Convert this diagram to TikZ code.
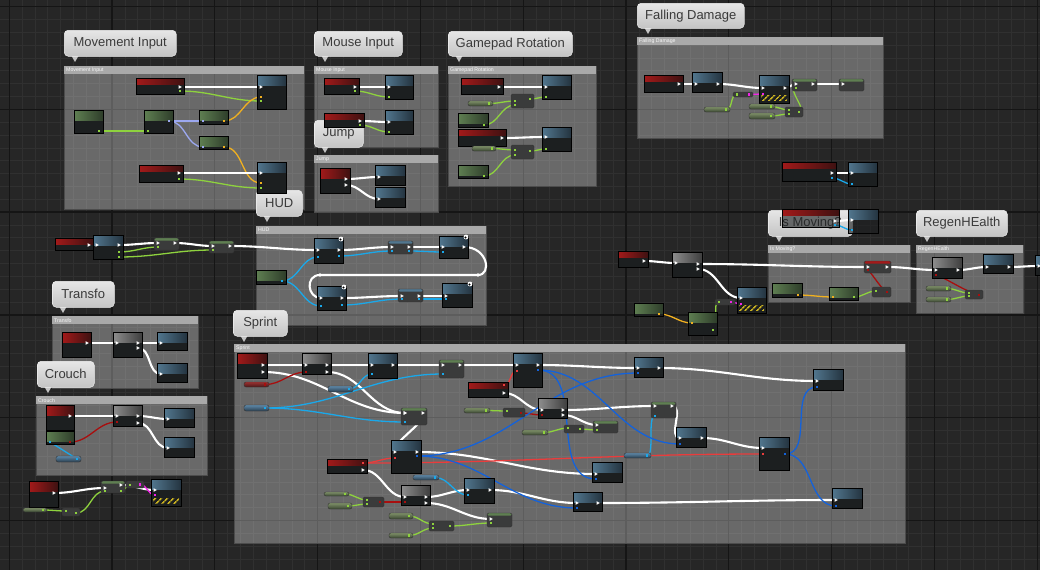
\documentclass[tikz,border=0pt]{standalone}
\usepackage{fontspec}
\setmainfont{Liberation Sans}
\usetikzlibrary{patterns.meta}
\pgfdeclarelayer{grid}
\pgfdeclarelayer{cmts}
\pgfdeclarelayer{wires}
\pgfsetlayers{grid,cmts,wires,main}
\definecolor{bgc}{HTML}{262626}
\definecolor{gmin}{HTML}{303030}
\definecolor{gmaj}{HTML}{151515}
\definecolor{ctitle}{HTML}{A9A9A9}
\definecolor{nbody}{HTML}{1C1F20}
\definecolor{hr1}{HTML}{A31A1A}
\definecolor{hr2}{HTML}{3E1111}
\definecolor{hb1}{HTML}{52778F}
\definecolor{hb2}{HTML}{243440}
\definecolor{hg1}{HTML}{5F7F52}
\definecolor{hg2}{HTML}{2E3D2A}
\definecolor{hk1}{HTML}{8E8E8E}
\definecolor{hk2}{HTML}{3E3E3E}
\definecolor{opc}{HTML}{3A3B3B}
\definecolor{pg1}{HTML}{7E9068}
\definecolor{pg2}{HTML}{3A4632}
\definecolor{pb1}{HTML}{5E88A8}
\definecolor{pb2}{HTML}{2A3E4E}
\definecolor{pr1}{HTML}{9A3030}
\definecolor{pr2}{HTML}{4A1A1A}
\definecolor{bub1}{HTML}{E6E6E6}
\definecolor{bub2}{HTML}{C4C4C4}
\definecolor{bubt}{HTML}{3A3A3A}
\definecolor{hazy}{HTML}{C8B020}
\definecolor{wgreen}{HTML}{8ED23E}
\definecolor{wyellow}{HTML}{F0B020}
\definecolor{wlav}{HTML}{9CA8F0}
\definecolor{wlblue}{HTML}{1AA8EA}
\definecolor{wdblue}{HTML}{1462DA}
\definecolor{wdred}{HTML}{A80E0E}
\definecolor{wred}{HTML}{EA3C3C}
\definecolor{wmag}{HTML}{F024E6}
\newfontfamily\bubf{Liberation Sans}
\tikzset{
 nb/.style={draw=black,line width=0.5pt,fill=nbody,inner sep=0pt,outer sep=0pt,anchor=north west},
 hdr/.style n args={3}{path picture={\shade[fill opacity=1,left color=#1,right color=#2] (path picture bounding box.north west) rectangle ([yshift=-#3]path picture bounding box.north east);}},
 rn/.style={nb,hdr={hr1}{hr2}{6pt}},
 rnb/.style={nb,hdr={hr1}{hr2}{10pt}},
 bn/.style={nb,hdr={hb1}{hb2}{10pt}},
 gn/.style={nb,hdr={hg1}{hg2}{10pt}},
 kn/.style={nb,hdr={hk1}{hk2}{10pt}},
 kop/.style={draw=black!80,line width=0.4pt,fill=opc,inner sep=0pt,outer sep=0pt,anchor=north west,rounded corners=1.5pt},
 setg/.style={kop,path picture={\fill[hg1] (path picture bounding box.north west) rectangle ([yshift=-2.5pt]path picture bounding box.north east);}},
 setb/.style={kop,path picture={\fill[hb1] (path picture bounding box.north west) rectangle ([yshift=-2.5pt]path picture bounding box.north east);}},
 setr/.style={kop,path picture={\fill[hr1] (path picture bounding box.north west) rectangle ([yshift=-2.5pt]path picture bounding box.north east);}},
 pg/.style={draw=black!80,line width=0.4pt,top color=pg1,bottom color=pg2,inner sep=0pt,outer sep=0pt,anchor=north west,rounded corners=2pt},
 pb/.style={pg,top color=pb1,bottom color=pb2},
 pr/.style={pg,top color=pr1,bottom color=pr2},
 wx/.style={draw=white,line width=2.1pt},
 wd/.style={line width=1.3pt},
 bubble/.style={anchor=north west,rounded corners=4pt,top color=bub1,bottom color=bub2,draw=white!90!gray,line width=0.5pt,text=bubt,font=\bubf\fontsize{13}{15}\selectfont,inner sep=0pt},
}
\newcommand\bpn[6]{\node[#1,minimum width=#5pt,minimum height=#6pt] (#2) at (#3,#4) {};}
\newcommand\pinx[1]{\fill[white] (#1) ++(-1.4,-1.8) -- ++(3.2,1.8) -- ++(-3.2,1.8) -- cycle;}
\newcommand\pind[2]{\fill[#1] (#2) ++(-1.3,-1.3) rectangle ++(2.6,2.6);}
\newcommand\ew[5][]{%
 \begin{pgfonlayer}{wires}\draw[wx,#1] ([xshift=-4pt,yshift=-#3pt]#2.north east) to[out=0,in=180] ([xshift=4pt,yshift=-#5pt]#4.north west);\end{pgfonlayer}%
 \pinx{[xshift=-4pt,yshift=-#3pt]#2.north east}\pinx{[xshift=4pt,yshift=-#5pt]#4.north west}}
\newcommand\dw[6][]{%
 \begin{pgfonlayer}{wires}\draw[wd,#2,#1] ([xshift=-4pt,yshift=-#4pt]#3.north east) to[out=0,in=180] ([xshift=4pt,yshift=-#6pt]#5.north west);\end{pgfonlayer}%
 \pind{#2}{[xshift=-4pt,yshift=-#4pt]#3.north east}\pind{#2}{[xshift=4pt,yshift=-#6pt]#5.north west}}
\newcommand\cmt[5]{%
 \fill[white,opacity=0.31] (#1,#2) rectangle (#3,#4);
 \draw[black!70,line width=0.5pt] (#1,#2) rectangle (#3,#4);
 \fill[ctitle] (#1,#2) rectangle (#3,#2+8);
 \node[anchor=west,inner sep=0pt,font=\bubf\fontsize{5.2}{6}\selectfont,text=white!94!gray] at (#1+2,#2+4.2) {#5};}
\newcommand\bub[6]{%
 \fill[bub2] (#2+7,#3+#5-1) -- (#2+15,#3+#5-1) -- (#2+11,#3+#5+6) -- cycle;
 \node[bubble,minimum width=#4pt,minimum height=#5pt] (#1) at (#2,#3) {#6};}
\newcommand\hz[1]{\fill[pattern={Lines[angle=45,distance=4pt,line width=1.7pt]},pattern color=hazy] ([xshift=2pt,yshift=3pt]#1.south west) rectangle ([xshift=-2pt,yshift=8pt]#1.south east);}
\begin{document}
\begin{tikzpicture}[x=1pt,y=-1pt]
\useasboundingbox (0,0) rectangle (1040,570);
\clip (0,0) rectangle (1040,570);
% ---------- grid
\begin{pgfonlayer}{grid}
\fill[bgc] (0,0) rectangle (1040,570);
\foreach \i in {-1,...,81} \draw[gmin,line width=0.7pt] ({9.2+12.85*\i},0) -- ++(0,570);
\foreach \i in {-1,...,44} \draw[gmin,line width=0.7pt] (0,{6.5+12.85*\i}) -- ++(1040,0);
\foreach \i in {0,...,10} \draw[gmaj,line width=1.3pt] ({9.2+102.8*\i},0) -- ++(0,570);
\foreach \i in {0,...,5} \draw[gmaj,line width=1.3pt] (0,{6.5+102.8*\i}) -- ++(1040,0);
\end{pgfonlayer}
% ---------- comments
\begin{pgfonlayer}{cmts}
\cmt{64}{66}{304}{209}{Movement Input}
\cmt{314}{66}{438}{147}{Mouse Input}
\cmt{314}{155}{438}{212}{Jump}
\cmt{448}{66}{596}{186}{Gamepad Rotation}
\cmt{637}{37}{883}{138}{Falling Damage}
\cmt{256}{226}{486}{325}{HUD}
\cmt{52}{316}{198}{388}{Transfo}
\cmt{36}{396}{207}{475}{Crouch}
\cmt{234}{344}{905}{543}{Sprint}
\cmt{768}{245}{910}{302}{Is Moving?}
\cmt{916}{245}{1023}{313}{RegenHEalth}
\bub{bmi}{64}{30}{112}{26}{Movement Input}
\bub{bmo}{314}{31}{88}{25}{Mouse Input}
\bub{bgp}{448}{31}{124}{25}{Gamepad Rotation}
\bub{bfd}{637}{3}{107}{25}{Falling Damage}
\bub{bjp}{314}{120}{49}{27}{Jump}
\bub{bhu}{256}{190}{46}{26}{HUD}
\bub{btf}{52}{281}{62}{26}{Transfo}
\bub{bcr}{37}{361}{57}{26}{Crouch}
\bub{bsp}{233}{310}{54}{26}{Sprint}
\bub{bim}{768}{210}{84}{26}{Is Moving?}
\bub{brg}{916}{210}{91}{26}{RegenHEalth}
\end{pgfonlayer}
% ---------- nodes
% Movement
\bpn{rn}{mir1}{136}{78}{48}{16}
\bpn{bn}{mib1}{257}{75}{29}{34}
\bpn{gn}{mig1}{74}{110}{29}{23}
\bpn{gn}{mig2}{144}{110}{29}{23}
\bpn{gn}{mig3}{199}{110}{29}{14}
\bpn{gn}{mig4}{199}{136}{29}{13}
\bpn{rn}{mir2}{139}{165}{44}{17}
\bpn{bn}{mib2}{257}{162}{29}{31}
% Mouse
\bpn{rn}{mor1}{324}{78}{35}{16}
\bpn{bn}{mob1}{385}{75}{28}{24}
\bpn{rn}{mor2}{324}{113}{40}{14}
\bpn{bn}{mob2}{385}{110}{28}{24}
% Jump
\bpn{rnb}{jpr}{320}{168}{30}{25}
\bpn{bn}{jpb1}{375}{165}{30}{20}
\bpn{bn}{jpb2}{375}{187}{30}{20}
% Gamepad
\bpn{rn}{gpr1}{461}{78}{42}{16}
\bpn{bn}{gpb1}{542}{75}{29}{24}
\bpn{kop}{gpk1}{511}{94}{23}{14}
\bpn{pg}{gpp1}{468}{101}{25}{5}
\bpn{gn}{gpg1}{458}{113}{30}{14}
\bpn{rn}{gpr2}{458}{129}{48}{17}
\bpn{bn}{gpb2}{542}{127}{29}{24}
\bpn{kop}{gpk2}{511}{145}{23}{14}
\bpn{pg}{gpp2}{472}{146}{24}{5}
\bpn{gn}{gpg2}{458}{165}{30}{13}
% Falling damage
\bpn{rn}{fdr}{644}{75}{39}{17}
\bpn{bn}{fdb1}{692}{72}{30}{20}
\bpn{bn}{fdb2}{759}{75}{30}{28}
\bpn{kop}{fdk1}{733}{92}{20}{5}
\bpn{pg}{fdp1}{704}{107}{26}{5}
\bpn{setg}{fds1}{792}{79}{25}{12}
\bpn{setg}{fds2}{839}{79}{25}{12}
\bpn{pg}{fdp2}{749}{104}{26}{5}
\bpn{pg}{fdp3}{749}{113}{26}{6}
\bpn{kop}{fdk2}{785}{107}{18}{10}
\hz{fdb2}
% isolated pairs
\bpn{rn}{isr}{782}{162}{54}{19}
\bpn{bn}{isb}{848}{162}{29}{24}
\bpn{rn,fill opacity=0.6}{ovr}{782}{209}{57}{18}
\bpn{bn,fill opacity=0.6}{ovb}{848}{209}{30}{24}
% HUD
\bpn{rn}{hur}{55}{238}{38}{12}
\bpn{bn}{hub}{93}{235}{30}{24}
\bpn{setg}{hus1}{154}{238}{25}{12}
\bpn{setg}{hus2}{209}{241}{25}{12}
\bpn{bn}{hub1}{314}{238}{29}{25}
\bpn{setb}{hus3}{388}{241}{25}{13}
\bpn{bn}{hub2}{439}{236}{29}{22}
\bpn{gn}{hug}{256}{270}{30}{14}
\bpn{bn}{hub3}{317}{286}{29}{24}
\bpn{setb}{hus4}{398}{289}{25}{13}
\bpn{bn}{hub4}{442}{283}{30}{24}
\foreach \n in {hub1,hub2,hub3,hub4} {\fill[white] ([xshift=-2pt,yshift=-1pt]\n.north east) circle (2.4); \fill[black] ([xshift=-2.6pt,yshift=-1.5pt]\n.north east) circle (1.1);}
% Transfo
\bpn{rnb}{tfr}{62}{332}{29}{25}
\bpn{kn}{tfk}{113}{332}{29}{25}
\bpn{bn}{tfb1}{157}{332}{30}{18}
\bpn{bn}{tfb2}{157}{363}{30}{19}
% Crouch
\bpn{rnb}{crr}{46}{405}{28}{25}
\bpn{gn}{crg}{46}{431}{28}{13}
\bpn{pb}{crp}{56}{456}{25}{6}
\bpn{kn}{crk}{113}{405}{29}{21}
\bpn{bn}{crb1}{164}{408}{30}{19}
\bpn{bn}{crb2}{164}{437}{30}{20}
% bottom-left
\bpn{rnb}{blr}{29}{481}{29}{26}
\bpn{pg}{blp}{23}{508}{24}{4}
\bpn{kop}{blk}{62}{508}{18}{8}
\bpn{setg}{bls}{101}{481}{24}{12}
\bpn{kop}{blk2}{126}{481}{18}{7}
\bpn{bn}{blb}{151}{479}{30}{27}
\hz{blb}
% Sprint
\bpn{rnb}{spr1}{237}{353}{30}{25}
\bpn{pr}{sppr}{244}{382}{25}{5}
\bpn{pb}{sppb}{244}{405}{25}{6}
\bpn{kn}{spk1}{302}{353}{29}{21}
\bpn{pb}{sppb2}{328}{386}{25}{6}
\bpn{bn}{spb1}{368}{353}{29}{25}
\bpn{setg}{sps1}{439}{360}{25}{18}
\bpn{bn}{spb2}{513}{353}{29}{34}
\bpn{rn}{spr2}{468}{382}{40}{15}
\bpn{pg}{sppg1}{464}{408}{26}{5}
\bpn{kop}{spk2}{503}{408}{22}{9}
\bpn{kn}{spk3}{538}{398}{29}{20}
\bpn{setg}{sps2}{401}{408}{26}{17}
\bpn{pg}{sppg2}{522}{430}{26}{5}
\bpn{kop}{spk4}{564}{425}{20}{8}
\bpn{setg}{sps3}{593}{421}{25}{12}
\bpn{bn}{spb3}{391}{440}{30}{33}
\bpn{rn}{spr3}{327}{459}{40}{14}
\bpn{pb}{sppb3}{413}{475}{26}{5}
\bpn{bn}{spb4}{464}{478}{30}{25}
\bpn{kn}{spk5}{401}{485}{29}{20}
\bpn{pg}{sppg3}{324}{492}{25}{4}
\bpn{pg}{sppg4}{328}{503}{24}{6}
\bpn{kop}{spk6}{363}{497}{21}{10}
\bpn{pg}{sppg5}{389}{513}{24}{6}
\bpn{pg}{sppg6}{389}{533}{24}{5}
\bpn{kop}{spk7}{429}{521}{25}{10}
\bpn{setg}{sps4}{487}{513}{25}{14}
\bpn{bn}{spb5}{592}{462}{30}{20}
\bpn{bn}{spb6}{573}{492}{29}{19}
\bpn{bn}{spb7}{634}{357}{29}{20}
\bpn{setg}{sps5}{651}{402}{25}{16}
\bpn{bn}{spb8}{676}{427}{30}{20}
\bpn{pb}{spprb}{624}{453}{27}{5}
\bpn{bn}{spb9}{759}{437}{30}{33}
\bpn{bn}{spb10}{813}{369}{30}{21}
\bpn{bn}{spb11}{832}{488}{30}{20}
% right cluster
\bpn{rn}{rcr}{618}{251}{30}{16}
\bpn{kn}{rck}{672}{252}{30}{25}
\bpn{bn}{rcb}{737}{287}{29}{26}
\bpn{kop}{rckm}{715}{299}{20}{6}
\bpn{gn}{rcg1}{634}{303}{29}{13}
\bpn{gn}{rcg2}{688}{312}{29}{23}
\bpn{gn}{img3}{772}{283}{30}{14}
\bpn{gn}{img4}{829}{287}{29}{13}
\bpn{setr}{ims}{864}{261}{27}{12}
\bpn{kop}{imk}{872}{287}{19}{10}
\bpn{kn}{rgk}{932}{257}{30}{21}
\bpn{bn}{rgb}{983}{254}{30}{19}
\bpn{pg}{rgp1}{926}{286}{25}{5}
\bpn{pg}{rgp2}{926}{297}{25}{5}
\bpn{kop}{rgk2}{965}{290}{18}{9}
\bpn{bn}{rgb2}{1035}{255}{30}{20}
\hz{rcb}
% ---------- wires
% Movement
\ew{mir1}{9}{mib1}{12}
\dw{wgreen}{mir1}{13}{mib1}{26}
\dw{wgreen}{mig1}{21}{mig2}{21}
\dw{wlav}{mig2}{11}{mig3}{11}
\dw{wlav}{mig2}{11}{mig4}{11}
\dw{wyellow}{mig3}{11}{mib1}{22}
\dw{wyellow}{mig4}{11}{mib2}{21}
\ew{mir2}{8}{mib2}{11}
\dw{wgreen}{mir2}{14}{mib2}{26}
% Mouse
\ew{mor1}{9}{mob1}{12}
\dw{wgreen}{mor1}{13}{mob1}{22}
\ew{mor2}{8}{mob2}{12}
\dw{wgreen}{mor2}{12}{mob2}{22}
% Jump
\ew{jpr}{11}{jpb1}{12}
\ew{jpr}{17}{jpb2}{12}
% Gamepad
\ew{gpr1}{9}{gpb1}{12}
\dw{wgreen}{gpp1}{2.5}{gpk1}{7}
\dw{wgreen}{gpg1}{12}{gpk1}{11}
\dw{wgreen}{gpk1}{5}{gpb1}{22}
\ew{gpr2}{9}{gpb2}{10}
\dw{wgreen}{gpp2}{2.5}{gpk2}{5}
\dw{wgreen}{gpg2}{11}{gpk2}{10}
\dw{wgreen}{gpk2}{6}{gpb2}{22}
% Falling damage
\ew{fdr}{9}{fdb1}{12}
\ew{fdb1}{12}{fdb2}{13}
\dw{wmag}{fdk1}{2.5}{fdb2}{19}
\dw{wgreen}{fdp1}{2.5}{fdk1}{2.5}
\ew{fdb2}{13}{fds1}{5}
\ew{fds1}{5}{fds2}{5}
\dw{wgreen}{fdk2}{5}{fds1}{9}
\dw{wgreen}{fdp2}{2.5}{fdk2}{3}
\dw{wgreen}{fdp3}{3}{fdk2}{7}
% pairs
\ew{isr}{11}{isb}{11}
\dw{wlblue}{isr}{16}{isb}{22}
\ew{ovr}{12}{ovb}{11}
\dw{wlblue}{ovr}{16}{ovb}{21}
% HUD
\ew{hur}{7}{hub}{10}
\ew{hub}{10}{hus1}{5}
\ew{hus1}{5}{hus2}{5}
\ew{hus2}{5}{hub1}{12}
\dw{wgreen}{hub}{17}{hus1}{9}
\dw{wgreen}{hub}{22}{hus2}{9}
\ew{hub1}{12}{hus3}{6}
\ew{hus3}{6}{hub2}{11}
\begin{pgfonlayer}{wires}
\draw[wx] ([xshift=-4pt,yshift=-11pt]hub2.north east) .. controls +(24,0) and +(14,0) .. (478,275) -- (320,275) .. controls +(-15,0) and +(-14,0) .. ([xshift=4pt,yshift=-12pt]hub3.north west);
\end{pgfonlayer}
\pinx{[xshift=-4pt,yshift=-11pt]hub2.north east}\pinx{[xshift=4pt,yshift=-12pt]hub3.north west}
\fill[white] (478,275) circle (1.8); \fill[white] (320,275) circle (1.8);
\ew{hub3}{12}{hus4}{7}
\ew{hus4}{7}{hub4}{13}
\dw{wlblue}{hug}{11}{hub1}{19}
\dw{wlblue}{hug}{11}{hub3}{20}
\dw{wlblue}{hub1}{18}{hus3}{10}
\dw{wlblue}{hus3}{10}{hub2}{16}
\dw{wlblue}{hub3}{19}{hus4}{10}
\dw{wlblue}{hus4}{10}{hub4}{16}
% Transfo
\ew{tfr}{11}{tfk}{11}
\ew{tfk}{11}{tfb1}{11}
\ew{tfk}{16}{tfb2}{11}
% Crouch
\ew{crr}{11}{crk}{11}
\dw{wdred}{crg}{11}{crk}{17}
\begin{pgfonlayer}{wires}
\draw[wd,wlblue] ([xshift=4pt,yshift=-11pt]crg.north west) -- ([xshift=-4pt,yshift=-3pt]crp.north east);
\end{pgfonlayer}
\pind{wlblue}{[xshift=4pt,yshift=-11pt]crg.north west}\pind{wlblue}{[xshift=-4pt,yshift=-3pt]crp.north east}
\ew{crk}{11}{crb1}{11}
\ew{crk}{18}{crb2}{11}
% bottom-left
\ew{blr}{12}{bls}{7}
\dw{wgreen}{blp}{2}{blk}{3}
\dw{wgreen}{blk}{5}{bls}{10}
\dw{wgreen}{bls}{10}{blk2}{4}
\ew{bls}{4}{blb}{11}
\dw{wmag}{blk2}{3.5}{blb}{16}
% Sprint exec
\ew{spr1}{12}{spk1}{12}
\ew{spk1}{12}{spb1}{12}
\ew{spb1}{12}{sps1}{5}
\ew{sps1}{5}{spb2}{12}
\ew{spb2}{12}{spb7}{11}
\ew{spb7}{11}{spb10}{12}
\ew{spr1}{19}{sps2}{5}
\ew{spk1}{19}{sps2}{5}
\begin{pgfonlayer}{wires}
\draw[wx] ([xshift=-4pt,yshift=-5pt]sps2.north east) .. controls +(14,0) and +(-14,0) .. ([xshift=4pt,yshift=-12pt]spb3.north west);
\draw[wd,wlblue] ([xshift=-4pt,yshift=-2.5pt]spprb.north east) .. controls +(8,0) and +(-8,0) .. ([xshift=4pt,yshift=-14pt]sps5.north west);
\end{pgfonlayer}
\pinx{[xshift=-4pt,yshift=-5pt]sps2.north east}\pinx{[xshift=4pt,yshift=-12pt]spb3.north west}
\pind{wlblue}{[xshift=-4pt,yshift=-2.5pt]spprb.north east}\pind{wlblue}{[xshift=4pt,yshift=-14pt]sps5.north west}
\ew{spb3}{12}{spb5}{12}
\ew{spr3}{11}{spk5}{12}
\ew{spk5}{12}{spb4}{12}
\ew{spk5}{18}{sps4}{6}
\ew{spb4}{12}{spb6}{11}
\ew{spb6}{11}{spb11}{12}
\ew{spr2}{11}{spk3}{12}
\ew{spk3}{12}{sps5}{4}
\ew{spk3}{17}{sps3}{4}
\ew{sps5}{4}{spb8}{11}
\ew{spb8}{11}{spb9}{11}
% Sprint data
\dw{wdred}{sppr}{2.5}{spk1}{19}
\dw{wlblue}{sppb}{3}{sps1}{14}
\dw{wlblue}{sppb}{3}{sps2}{14}
\dw{wlblue}{sppb2}{3}{spb1}{21}
\dw{wred}{spr2}{3}{spb2}{18}
\dw{wgreen}{sppg1}{2.5}{spk2}{3}
\dw{wdred}{spk2}{5}{spk3}{17}
\dw{wgreen}{sppg2}{2.5}{spk4}{3}
\dw{wgreen}{spk4}{4}{sps3}{9}
\dw{wred}{spr3}{4}{spb3}{18}
\dw{wred}{spr3}{4}{spb9}{17}
\dw{wlblue}{sppb3}{2.5}{spb4}{17}
\dw{wgreen}{sppg3}{2}{spk6}{3}
\dw{wgreen}{sppg4}{3}{spk6}{7}
\dw{wdred}{spk6}{5}{spk5}{17}
\dw{wgreen}{sppg5}{3}{spk7}{3}
\dw{wgreen}{sppg6}{2.5}{spk7}{7}
\dw{wgreen}{spk7}{5}{sps4}{10}
\dw{wdblue}{spb3}{16}{spb7}{16}
\dw{wdblue}{spb3}{16}{spb6}{16}
\dw{wdblue}{spb2}{17}{spb5}{17}
\dw{wdblue}{spb2}{17}{spb8}{17}
\dw{wdblue}{spb9}{17}{spb10}{18}
\dw{wdblue}{spb9}{17}{spb11}{18}
% right cluster
\ew{rcr}{10}{rck}{11}
\ew{rck}{12}{ims}{6}
\ew{ims}{6}{rgk}{13}
\ew{rgk}{13}{rgb}{13}
\ew{rgb}{13}{rgb2}{11}
\ew{rck}{17}{rcb}{11}
\dw{wyellow}{rcg1}{11}{rcg2}{11}
\dw{wmag}{rckm}{3}{rcb}{17}
\dw{wyellow}{img3}{12}{img4}{10}
\dw{wgreen}{img4}{10}{imk}{4}
\dw{wgreen}{rgp1}{2.5}{rgk2}{3}
\dw{wgreen}{rgp2}{2.5}{rgk2}{6}
\begin{pgfonlayer}{wires}
\draw[wd,wgreen] ([xshift=-4pt,yshift=-18pt]rcg2.north east) .. controls +(8,0) and +(-8,0) .. ([xshift=4pt,yshift=-3pt]rckm.north west);
\draw[wd,wdred] ([xshift=-4pt,yshift=-5pt]imk.north east) .. controls +(-6,-3) and +(6,6) .. ([xshift=4pt,yshift=-9pt]ims.north west);
\draw[wd,wdred] ([xshift=-4pt,yshift=-5pt]rgk2.north east) .. controls +(-15,-4) and +(10,3) .. ([xshift=4pt,yshift=-18pt]rgk.north west);
\end{pgfonlayer}
\pind{wgreen}{[xshift=-4pt,yshift=-18pt]rcg2.north east}\pind{wgreen}{[xshift=4pt,yshift=-3pt]rckm.north west}
\pind{wdred}{[xshift=-4pt,yshift=-5pt]imk.north east}\pind{wdred}{[xshift=4pt,yshift=-9pt]ims.north west}
\pind{wdred}{[xshift=-4pt,yshift=-5pt]rgk2.north east}\pind{wdred}{[xshift=4pt,yshift=-18pt]rgk.north west}
\end{tikzpicture}
\end{document}
